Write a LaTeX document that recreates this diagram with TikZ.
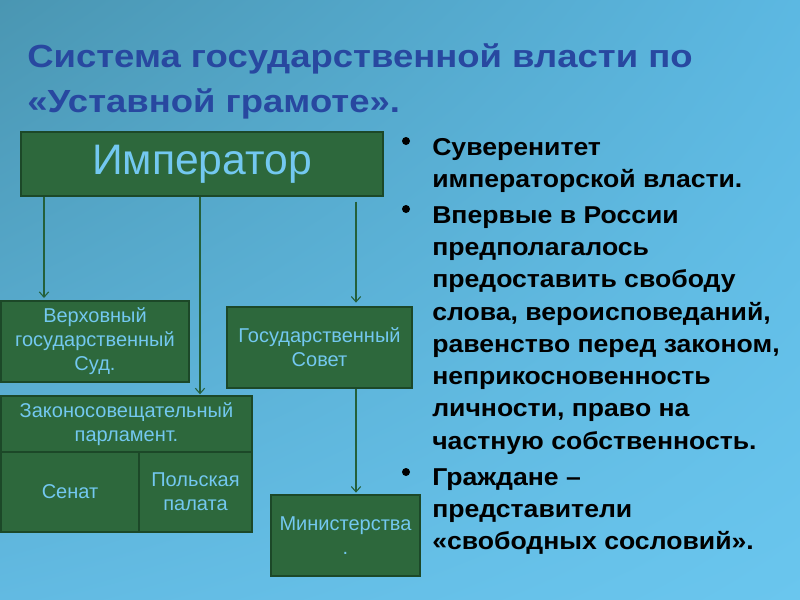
\documentclass[tikz,border=0pt]{standalone}
\usepackage{fontspec}
\setmainfont{Liberation Sans}
\newfontfamily\titlefont[FakeStretch=1.14]{Liberation Sans}
\newfontfamily\itemfont[FakeStretch=1.09]{Liberation Sans}
\usetikzlibrary{arrows.meta,shadings}
\definecolor{bgA}{RGB}{74,150,178}
\definecolor{bgB}{RGB}{92,184,226}
\definecolor{bgC}{RGB}{98,186,226}
\definecolor{bgD}{RGB}{106,198,238}
\definecolor{boxfill}{RGB}{45,104,60}
\definecolor{boxline}{RGB}{28,72,40}
\definecolor{boxtext}{RGB}{115,200,240}
\definecolor{titleblue}{RGB}{40,72,160}
\definecolor{arrowgreen}{RGB}{36,96,58}
\tikzset{
  box/.style={draw=boxline, line width=1.5pt, fill=boxfill, text=boxtext,
    font=\fontsize{15}{18}\selectfont, align=center, inner sep=0pt, anchor=north west},
  arr/.style={draw=arrowgreen, line width=0.8pt, -{Straight Barb[length=4pt,width=7pt]}},
  ttl/.style={anchor=base west, inner sep=0pt, text=titleblue, font=\titlefont\fontsize{24}{30}\selectfont\bfseries},
  item/.style={anchor=north west, inner sep=0pt, align=left, text=black, font=\itemfont\fontsize{18.3}{24.2}\selectfont\bfseries},
  dot/.style={fill=black}
}
\begin{document}
\begin{tikzpicture}[x=0.75pt,y=-0.75pt]
\useasboundingbox (0,0) rectangle (800,600);
\shade[upper left=bgA, upper right=bgB, lower left=bgC, lower right=bgD] (0,0) rectangle (800,600);

\node[ttl] (t1) at (27,67) {Система государственной власти по};
\node[ttl] (t2) at (27,112) {«Уставной грамоте».};

\node[box, minimum width=271.5pt, minimum height=48pt, font=\fontsize{32}{36}\selectfont] (imp) at (20,131) {Император};
\node[box, minimum width=141pt, minimum height=60.75pt] (sud) at (0,300) {Верховный\\государственный\\Суд.};
\node[box, minimum width=138.75pt, minimum height=60.75pt] (sovet) at (226,306) {Государственный\\Совет};
\node[box, minimum width=188.25pt, minimum height=42pt] (parl) at (0,395) {Законосовещательный\\парламент.};
\node[box, minimum width=103.5pt, minimum height=60pt] (senat) at (0,451) {Сенат};
\node[box, minimum width=84.75pt, minimum height=60pt] (polsk) at (138,451) {Польская\\палата};
\node[box, minimum width=111.75pt, minimum height=60.75pt] (minist) at (270,494) {Министерства\\.};

\draw[arr, shorten >=1.5pt] (imp.south -| 44,0) -- (sud.north -| 44,0);
\draw[arr, shorten >=0.5pt] (imp.south -| 200,0) -- (parl.north -| 200,0);
\draw[arr, shorten <=3.5pt, shorten >=2.5pt] (imp.south -| 356,0) -- (sovet.north -| 356,0);
\draw[arr, shorten >=1pt] (sovet.south -| 356,0) -- (minist.north -| 356,0);

\fill[dot] (406,141) circle[radius=3pt];
\fill[dot] (406,209) circle[radius=3pt];
\fill[dot] (406,472) circle[radius=3pt];
\node[item] (i1) at (432,135) {\rule{0pt}{15pt}Суверенитет\\императорской власти.};
\node[item] (i2) at (432,203) {\rule{0pt}{15pt}Впервые в России\\предполагалось\\предоставить свободу\\слова, вероисповеданий,\\равенство перед законом,\\неприкосновенность\\личности, право на\\частную собственность.};
\node[item] (i3) at (432,465) {\rule{0pt}{15pt}Граждане –\\представители\\«свободных сословий».};
\end{tikzpicture}
\end{document}
